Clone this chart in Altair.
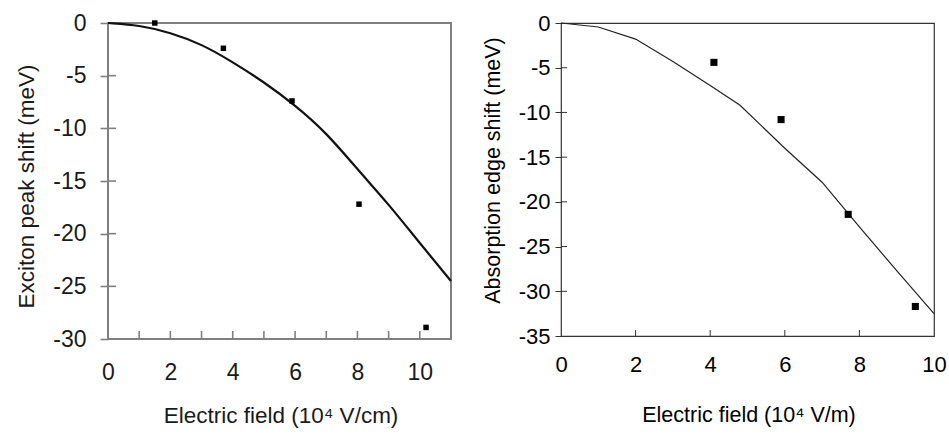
import altair as alt
import pandas as pd

FONT = "Liberation Sans"

# Exciton peak shift vs electric field (measured points and calculated curve)
ex_field = [1.5, 3.7, 5.9, 8.05, 10.2]
ex_shift = [0.0, -2.4, -7.4, -17.2, -28.9]
ex_fit_field = [0, 1, 2, 3, 4, 5, 6, 7, 8, 9, 10, 11]
ex_fit_shift = [0, -0.2, -0.9, -2.0, -3.7, -5.6, -7.8, -10.4, -13.9, -17.2, -20.9, -24.5]

# Absorption edge shift vs electric field
ab_field = [4.1, 5.9, 7.7, 9.5]
ab_shift = [-4.4, -10.8, -21.4, -31.7]
ab_fit_field = [0, 1, 2, 3, 4, 4.8, 6, 7, 8, 9, 10]
ab_fit_shift = [0, -0.45, -1.8, -4.3, -7.0, -9.2, -14.0, -17.8, -22.8, -27.7, -32.5]

# Axis tick positions
left_x_labels = [0, 2, 4, 6, 8, 10]
left_x_ticks = [1, 2, 3, 4, 5, 6, 7, 8, 9, 10]
left_y_labels = [0, -5, -10, -15, -20, -25, -30]
left_y_ticks = [-5, -10, -15, -20, -25]
right_x_labels = [0, 2, 4, 6, 8, 10]
right_x_ticks = [2, 4, 6, 8]
right_y_labels = [0, -5, -10, -15, -20, -25, -30, -35]
right_y_ticks = [-5, -10, -15, -20, -25, -30]

# plain hyphen for negative tick labels
HYPHEN = "replace(datum.label, '\u2212', '-')"


def panel(width, height, pts, fit, xdom, ydom, xlabels, ylabels, xticks, yticks,
          xtitle, ytitle, style):
    xs = alt.Scale(domain=xdom, nice=False, zero=False)
    ys = alt.Scale(domain=ydom, nice=False, zero=False)
    xaxis = alt.Axis(
        values=xlabels, title=xtitle, grid=False, domain=False, ticks=False, tickSize=0,
        labelFlush=False, labelOverlap=False,
        labelPadding=style["xpad"], labelFont=FONT, labelFontSize=style["lfs"],
        labelColor=style["text"], titleFont=FONT, titleFontSize=style["fs"],
        titleFontWeight="normal", titleColor=style["text"], titleX=width / 2 + 1,
        titleY=style["xtitle_y"], titleBaseline="middle",
    )
    yaxis = alt.Axis(
        values=ylabels, title=ytitle, grid=False, domain=False, labelExpr=HYPHEN,
        labelFlush=False, labelOverlap=False,
        tickSize=style["tick"], tickColor=style["frame"], tickWidth=style["tw"],
        labelPadding=style["ypad"], labelFont=FONT, labelFontSize=style["lfs"],
        labelColor=style["text"], titleFont=FONT, titleFontSize=style["fs"],
        titleFontWeight="normal", titleColor=style["text"], titleX=style["ytitle_x"],
        titleY=style["ytitle_y"], titleBaseline="middle",
    )

    curve = alt.Chart(fit).mark_line(
        color=style["line"], strokeWidth=style["lw"], interpolate=style["interp"]
    ).encode(
        x=alt.X("field:Q", scale=xs, axis=xaxis),
        y=alt.Y("shift:Q", scale=ys, axis=yaxis),
    )
    points = alt.Chart(pts).mark_square(
        color="black", size=style["ms"], opacity=1
    ).encode(
        x=alt.X("field:Q", scale=xs, axis=xaxis),
        y=alt.Y("shift:Q", scale=ys, axis=yaxis),
    )
    # inward tick marks along the bottom and left edges
    xt = alt.Chart(pd.DataFrame({"field": xticks})).mark_rule(
        color=style["frame"], strokeWidth=style["tw"]
    ).encode(
        x=alt.X("field:Q", scale=xs, axis=xaxis),
        y=alt.value(height),
        y2=alt.value(height - style["tick"]),
    )
    yt = alt.Chart(pd.DataFrame({"shift": yticks})).mark_rule(
        color=style["frame"], strokeWidth=style["tw"]
    ).encode(
        y=alt.Y("shift:Q", scale=ys, axis=yaxis),
        x=alt.value(0),
        x2=alt.value(style["tick"]),
    )
    return alt.layer(curve, xt, yt, points).properties(
        width=width, height=height,
        view=alt.ViewBackground(stroke=style["frame"], strokeWidth=style["fw"]),
    )


left = panel(
    343, 316,
    pd.DataFrame({"field": ex_field, "shift": ex_shift}),
    pd.DataFrame({"field": ex_fit_field, "shift": ex_fit_shift}),
    [0, 11], [-30, 0], left_x_labels, left_y_labels, left_x_ticks, left_y_ticks,
    "Electric field (10\u2074 V/cm)", "Exciton peak shift (meV)",
    dict(fs=22.5, lfs=23, text="#1a1a1a", frame="#808080", fw=2, tick=8, tw=1.6,
         xpad=22, ypad=14, xtitle_y=76, ytitle_x=-82, ytitle_y=163,
         line="#111111", lw=2.2, interp="basis", ms=30),
)

right = panel(
    373, 313,
    pd.DataFrame({"field": ab_field, "shift": ab_shift}),
    pd.DataFrame({"field": ab_fit_field, "shift": ab_fit_shift}),
    [0, 10], [-35, 0], right_x_labels, right_y_labels, right_x_ticks, right_y_ticks,
    "Electric field (10\u2074 V/m)", "Absorption edge shift (meV)",
    dict(fs=21.5, lfs=22, text="#000000", frame="#333333", fw=1.2, tick=6, tw=1,
         xpad=18, ypad=5, xtitle_y=79, ytitle_x=-68, ytitle_y=147,
         line="#222222", lw=1.2, interp="linear", ms=50),
)

chart = alt.hconcat(left, right, spacing=24).properties(
    padding={"left": 14, "top": 11, "right": 0, "bottom": 0},
    background="white",
)

chart.save("out.html", embed_options={"renderer": "svg", "actions": False})
